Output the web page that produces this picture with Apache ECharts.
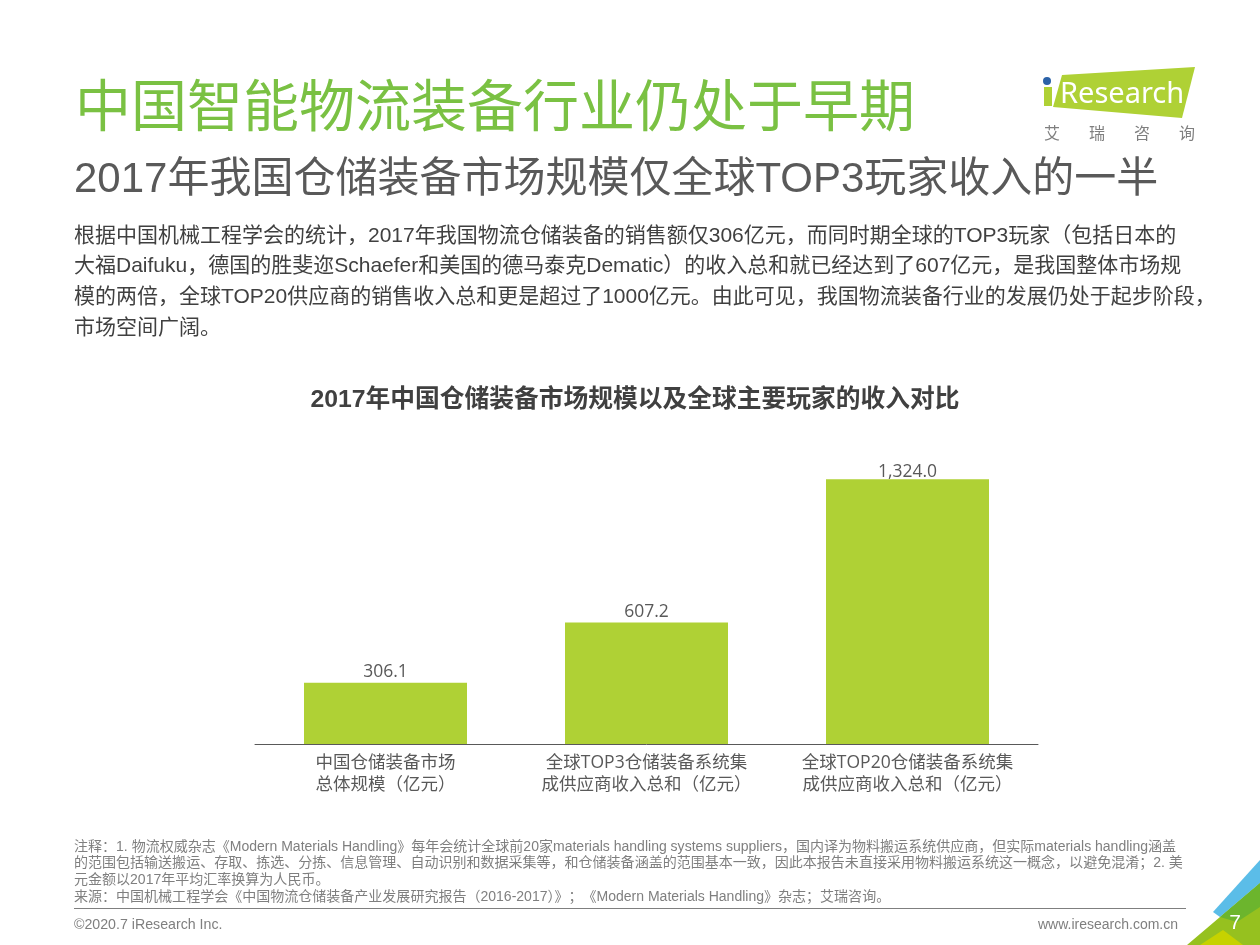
<!DOCTYPE html>
<html>
<head>
<meta charset="utf-8">
<title>中国智能物流装备行业仍处于早期</title>
<script src="https://cdn.jsdelivr.net/npm/echarts@6/dist/echarts.min.js"></script>
<style>
    html, body { margin: 0; padding: 0; background: #fff; }
    #chart { width: 1260px; height: 945px; }
</style>
</head>
<body>
<div id="chart"></div>
<script>
const categories = [
    '中国仓储装备市场\n总体规模（亿元）',
    '全球TOP3仓储装备系统集\n成供应商收入总和（亿元）',
    '全球TOP20仓储装备系统集\n成供应商收入总和（亿元）'
];
const revenue = [306.1, 607.2, 1324.0];

const pageTitle = '中国智能物流装备行业仍处于早期';
const pageSubtitle = '2017年我国仓储装备市场规模仅全球TOP3玩家收入的一半';
const bodyLines = [
    '根据中国机械工程学会的统计，2017年我国物流仓储装备的销售额仅306亿元，而同时期全球的TOP3玩家（包括日本的',
    '大福Daifuku，德国的胜斐迩Schaefer和美国的德马泰克Dematic）的收入总和就已经达到了607亿元，是我国整体市场规',
    '模的两倍，全球TOP20供应商的销售收入总和更是超过了1000亿元。由此可见，我国物流装备行业的发展仍处于起步阶段，',
    '市场空间广阔。'
];
const chartTitle = '2017年中国仓储装备市场规模以及全球主要玩家的收入对比';
const noteLines = [
    '注释：1. 物流权威杂志《Modern Materials Handling》每年会统计全球前20家materials handling systems suppliers，国内译为物料搬运系统供应商，但实际materials handling涵盖',
    '的范围包括输送搬运、存取、拣选、分拣、信息管理、自动识别和数据采集等，和仓储装备涵盖的范围基本一致，因此本报告未直接采用物料搬运系统这一概念，以避免混淆；2. 美',
    '元金额以2017年平均汇率换算为人民币。',
    '来源：中国机械工程学会《中国物流仓储装备产业发展研究报告（2016-2017）》；《Modern Materials Handling》杂志；艾瑞咨询。'
];

const ARIAL = '"Liberation Sans","Noto Sans CJK SC",sans-serif';
const YAHEI = '"Open Sans","Noto Sans CJK SC",sans-serif';

function textEl(x, y, text, size, color, family, extra) {
    return {
        type: 'text', x: x, y: y, silent: true,
        style: Object.assign({
            text: text, fontSize: size, fill: color, fontFamily: family,
            textVerticalAlign: 'middle', textAlign: 'left'
        }, extra || {})
    };
}

function polyEl(points, fill) {
    return { type: 'polygon', silent: true, shape: { points: points }, style: { fill: fill } };
}

function buildGraphics() {
    const els = [];
    els.push(textEl(75, 105, pageTitle, 56, '#7AC143', '"Noto Sans CJK SC",sans-serif'));
    els.push(textEl(74, 180, pageSubtitle, 42, '#595959', ARIAL));
    bodyLines.forEach((line, i) => els.push(textEl(74, 236 + i * 30.7, line, 21, '#404040', ARIAL)));
    els.push(textEl(635, 400, chartTitle, 24.75, '#404040', ARIAL, { fontWeight: 'bold', textAlign: 'center' }));
    noteLines.forEach((line, i) => els.push(textEl(74, 847 + i * 16.6, line, 14.03, '#7f7f7f', ARIAL)));
    els.push({ type: 'line', silent: true, shape: { x1: 74, y1: 908.5, x2: 1186, y2: 908.5 }, style: { stroke: '#7f7f7f', lineWidth: 1 } });
    els.push(textEl(74, 925, '©2020.7 iResearch Inc.', 14.2, '#7f7f7f', ARIAL));
    els.push(textEl(1178, 925, 'www.iresearch.com.cn', 14, '#7f7f7f', ARIAL, { textAlign: 'right' }));

    // logo
    els.push(polyEl([[1062, 75], [1195, 67], [1182, 118], [1053, 107]], '#AFD135'));
    els.push(polyEl([[1044, 87], [1052, 87], [1052, 106], [1044, 106]], '#AFD135'));
    els.push({ type: 'circle', silent: true, shape: { cx: 1047, cy: 81, r: 4 }, style: { fill: '#2B62A8' } });
    els.push(textEl(1060, 95, 'Research', 29, '#fff', '"Noto Sans",sans-serif'));
    ['艾', '瑞', '咨', '询'].forEach((ch, i) => els.push(textEl(1052 + i * 45, 133, ch, 16, '#7f7f7f', '"Noto Sans CJK SC",sans-serif', { textAlign: 'center' })));

    // corner
    els.push(polyEl([[1220, 917], [1260, 883], [1260, 945], [1187, 945]], '#96C11F'));
    els.push(polyEl([[1260, 860], [1213, 912], [1220, 917], [1260, 883]], '#5BBDE8'));
    els.push(polyEl([[1220, 917], [1260, 883], [1260, 907], [1237, 922]], '#6CB52D'));
    els.push(polyEl([[1200, 945], [1223, 930], [1243, 945]], '#C6D200'));
    els.push(textEl(1235, 923, '7', 21, '#fff', ARIAL, { textAlign: 'center' }));
    return els;
}

const chart = echarts.init(document.getElementById('chart'));
chart.setOption({
    animation: false,
    backgroundColor: '#fff',
    grid: { left: 255, right: 222, top: 464, height: 280 },
    xAxis: {
        type: 'category',
        data: categories,
        axisTick: { show: false },
        axisLine: { lineStyle: { color: '#595959', width: 1 } },
        axisLabel: { color: '#595959', fontSize: 17.5, lineHeight: 22, margin: 8, fontFamily: YAHEI, interval: 0 }
    },
    yAxis: { type: 'value', min: 0, max: 1400, show: false, splitLine: { show: false } },
    series: [{
        type: 'bar',
        // the tallest bar's label sits closer to the bar in the source
        data: revenue.map((v, i) => i === revenue.length - 1 ? { value: v, label: { distance: -2 } } : v),
        barWidth: 163,
        itemStyle: { color: '#AFD135' },
        label: {
            show: true, position: 'top', distance: 2,
            color: '#595959', fontSize: 17.5, fontFamily: YAHEI,
            formatter: p => p.value.toLocaleString('en-US', { minimumFractionDigits: 1, maximumFractionDigits: 1 })
        }
    }],
    graphic: buildGraphics()
});
</script>
</body>
</html>
